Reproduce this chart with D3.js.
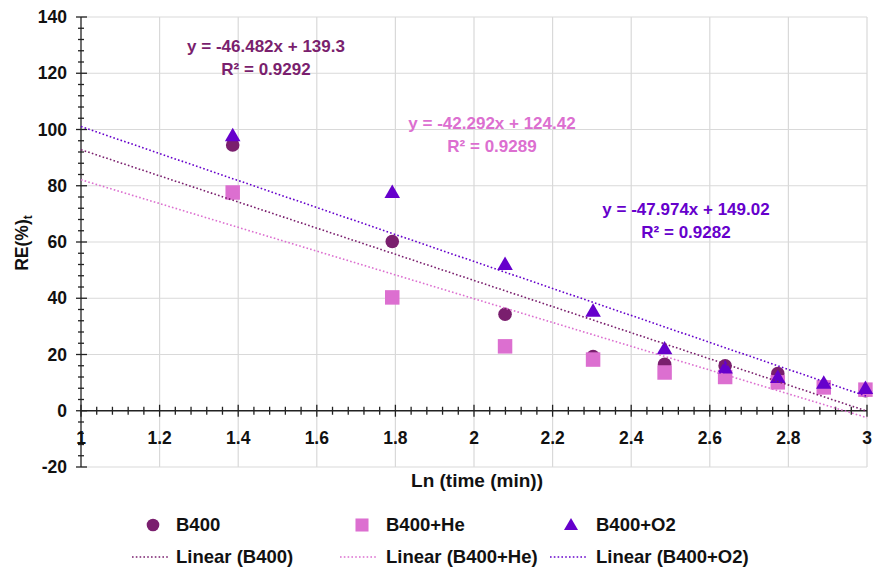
<!DOCTYPE html>
<html>
<head>
<meta charset="utf-8">
<script src="https://cdn.jsdelivr.net/npm/d3@7"></script>
<style>
  html, body { margin: 0; padding: 0; background: #fff; }
  svg text { font-family: "Liberation Sans", Arial, sans-serif; font-weight: bold; }
</style>
</head>
<body>
<script>
// Ln(time) sampling points (ln of 4, 6, 8 ... 20 min)
const lnTime = [1.386, 1.792, 2.079, 2.303, 2.485, 2.639, 2.773, 2.890, 2.996];

// RE(%)t for each sample
const reB400   = [94.5, 60.2, 34.3, 19.3, 16.5, 16.0, 13.2, 8.8, 7.1];
const reB400He = [77.6, 40.3, 22.9, 18.2, 13.6, 12.0, 10.1, 8.3, 7.5];
const reB400O2 = [97.8, 77.6, 52.0, 35.4, 22.0, 15.2, 11.8, 9.8, 7.9];

// Linear trendline coefficients (slope, intercept) and R²
const slopes     = [-46.482, -42.292, -47.974];
const intercepts = [139.3, 124.42, 149.02];
const r2         = [0.9292, 0.9289, 0.9282];

const seriesNames = ["B400", "B400+He", "B400+O2"];
const seriesColors = ["#7a1f6e", "#dc6fd0", "#6600cc"];

const xTicks = [1, 1.2, 1.4, 1.6, 1.8, 2, 2.2, 2.4, 2.6, 2.8, 3];
const yTicks = [-20, 0, 20, 40, 60, 80, 100, 120, 140];

const W = 874, H = 572;
const svg = d3.select("body").append("svg").attr("width", W).attr("height", H);

const x = d3.scaleLinear().domain([1, 3]).range([81, 867]);
const y = d3.scaleLinear().domain([-20, 140]).range([467, 17]);

// Grid
const grid = svg.append("g").attr("stroke", "#d9d9d9").attr("stroke-width", 1.2);
grid.selectAll(".gx").data(xTicks.slice(1)).join("line")
  .attr("x1", d => x(d)).attr("x2", d => x(d))
  .attr("y1", y(140)).attr("y2", y(-20));
grid.selectAll(".gy").data(yTicks).join("line")
  .attr("x1", x(1)).attr("x2", x(3))
  .attr("y1", d => y(d)).attr("y2", d => y(d));

// Y axis with crossing ticks
const yMinor = d3.range(-20, 140.01, 4);
const yAxisG = svg.append("g").attr("stroke", "#222").attr("stroke-width", 1.3);
yAxisG.append("line").attr("x1", x(1)).attr("x2", x(1)).attr("y1", y(140)).attr("y2", y(-20));
yAxisG.selectAll(".ym").data(yMinor).join("line")
  .attr("x1", d => yTicks.includes(Math.round(d)) ? x(1) - 5 : x(1) - 3)
  .attr("x2", d => yTicks.includes(Math.round(d)) ? x(1) + 6 : x(1) + 3)
  .attr("y1", d => y(d)).attr("y2", d => y(d));

svg.append("g").selectAll("text").data(yTicks).join("text")
  .attr("x", 67).attr("y", d => y(d)).attr("dy", "0.35em")
  .attr("text-anchor", "end").attr("font-size", 17.5).attr("fill", "#111")
  .text(d => d);

// X axis at y = 0 with crossing ticks
const xMinor = d3.range(0, 51).map(i => 1 + i * 0.04);
const xAxisG = svg.append("g").attr("stroke", "#222").attr("stroke-width", 1.3);
xAxisG.append("line").attr("x1", x(1)).attr("x2", x(3)).attr("y1", y(0)).attr("y2", y(0));
xAxisG.selectAll(".xm").data(xMinor).join("line")
  .attr("x1", d => x(d)).attr("x2", d => x(d))
  .attr("y1", (d, i) => i % 5 === 0 ? y(0) - 6 : y(0) - 4)
  .attr("y2", (d, i) => i % 5 === 0 ? y(0) + 6 : y(0) + 4);

svg.append("g").selectAll("text").data(xTicks).join("text")
  .attr("x", d => x(d)).attr("y", y(0) + 33)
  .attr("text-anchor", "middle").attr("font-size", 17.5).attr("fill", "#111")
  .text(d => d);

// Axis titles
svg.append("text").attr("x", 477).attr("y", 487).attr("text-anchor", "middle")
  .attr("font-size", 19).attr("fill", "#111").text("Ln (time (min))");
const yt = svg.append("text").attr("transform", "translate(28,243) rotate(-90)")
  .attr("text-anchor", "middle").attr("font-size", 17.5).attr("fill", "#111");
yt.append("tspan").text("RE(%)");
yt.append("tspan").attr("font-size", 12).attr("dy", 4).text("t");

// Markers
const series = [reB400, reB400He, reB400O2];
const symbols = [d3.symbolCircle, d3.symbolSquare, d3.symbolTriangle];
const sizes = [145, 210, 105];
series.forEach((vals, s) => {
  svg.append("g").selectAll("path").data(vals).join("path")
    .attr("d", d3.symbol().type(symbols[s]).size(sizes[s]))
    .attr("transform", (d, i) => `translate(${x(lnTime[i])},${y(d) + (s === 2 ? 1 : 0)})`)
    .attr("fill", seriesColors[s]);
});

// Trendlines
slopes.forEach((m, s) => {
  const xs = [1, 3];
  svg.append("line")
    .attr("x1", x(xs[0])).attr("y1", y(m * xs[0] + intercepts[s]))
    .attr("x2", x(xs[1])).attr("y2", y(m * xs[1] + intercepts[s]))
    .attr("stroke", seriesColors[s]).attr("stroke-width", 1.6)
    .attr("stroke-dasharray", "1.6,2.2");
});

// Trendline equations
const eqPos = [[266, 52], [492, 129], [686, 215]];
slopes.forEach((m, s) => {
  const g = svg.append("g").attr("fill", seriesColors[s]).attr("font-size", 17)
    .attr("text-anchor", "middle");
  g.append("text").attr("x", eqPos[s][0]).attr("y", eqPos[s][1])
    .text(`y = ${m}x + ${intercepts[s]}`);
  g.append("text").attr("x", eqPos[s][0]).attr("y", eqPos[s][1] + 23)
    .text(`R² = ${r2[s]}`);
});

// Legend
const legX = [153, 362, 571];
const legTextX = [176, 386, 596];
const lineX = [[132, 170], [340, 378], [550, 588]];
const row1 = 525, row2 = 557;
const legSizes = [125, 170, 85];
seriesNames.forEach((name, s) => {
  svg.append("path")
    .attr("d", d3.symbol().type(symbols[s]).size(legSizes[s]))
    .attr("transform", `translate(${legX[s]},${row1 + (s === 2 ? 1 : 0)})`)
    .attr("fill", seriesColors[s]);
  svg.append("text").attr("x", legTextX[s]).attr("y", row1).attr("dy", "0.35em")
    .attr("font-size", 18.5).attr("fill", "#111").text(name);
  svg.append("line")
    .attr("x1", lineX[s][0]).attr("x2", lineX[s][1])
    .attr("y1", row2).attr("y2", row2)
    .attr("stroke", seriesColors[s]).attr("stroke-width", 1.6)
    .attr("stroke-dasharray", "1.6,2.2");
  svg.append("text").attr("x", legTextX[s]).attr("y", row2).attr("dy", "0.35em")
    .attr("font-size", 18.5).attr("fill", "#111").text(`Linear (${name})`);
});
</script>
</body>
</html>
